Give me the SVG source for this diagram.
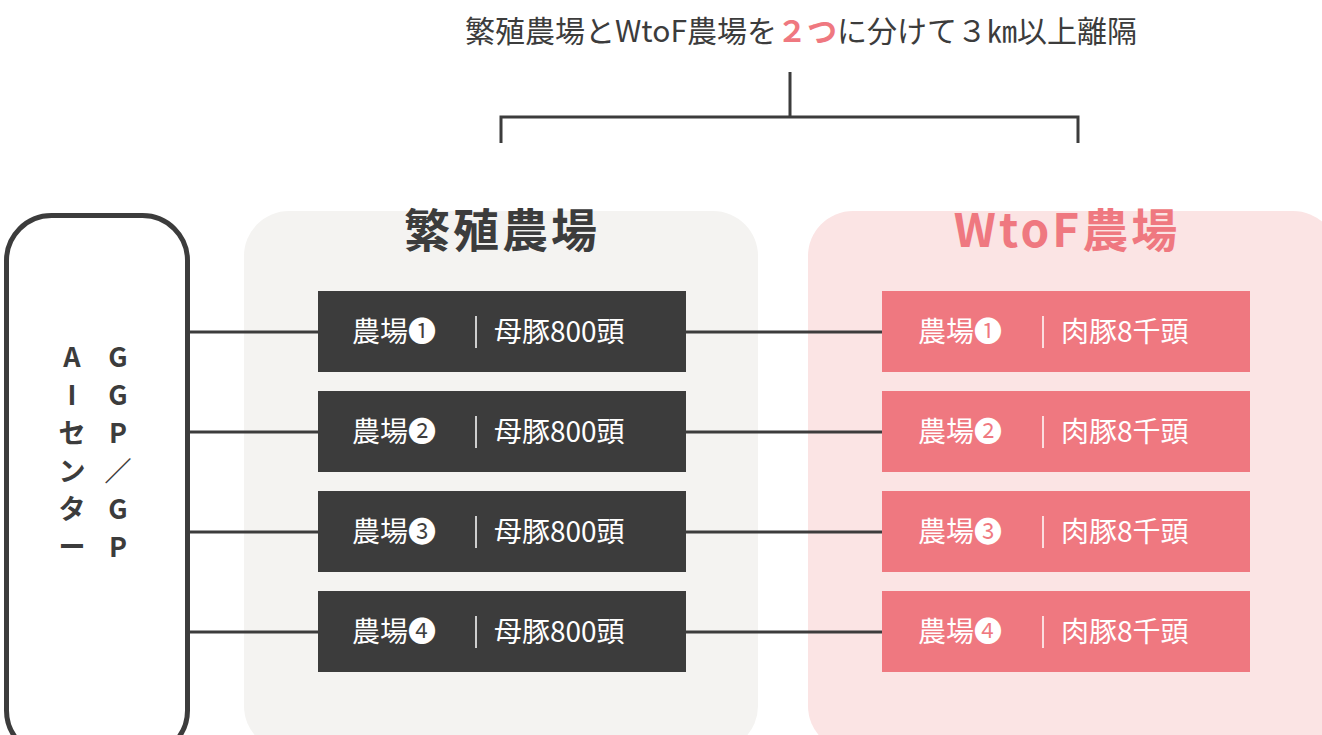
<svg xmlns="http://www.w3.org/2000/svg" width="1322" height="735" viewBox="0 0 1322 735">
<style>
text{font-family:"Noto Sans CJK JP","Noto Sans",sans-serif}
.t{font-size:30px;fill:#3c3c3c}
.h{font-size:46px;font-weight:bold;letter-spacing:3px}
.b{font-size:28px;fill:#fff}
.v{font-size:27px;font-weight:bold;fill:#3c3c3c}
.ln{stroke:#3c3c3c;stroke-width:3;fill:none}
.sep{stroke:#fff;stroke-width:1.5}
.dk{fill:#3c3c3c}.pk{fill:#ef7880}
</style>
<rect width="1322" height="735" fill="#fff"/>
<text class="t" x="801" y="42" text-anchor="middle">繁殖農場とWtoF農場を<tspan fill="#ef7880" font-weight="bold">２つ</tspan>に分けて３㎞以上離隔</text>
<g id="panels">
<rect x="244" y="211" width="514" height="540" rx="45" fill="#f4f3f1"/>
<rect x="808" y="211" width="530" height="540" rx="45" fill="#fbe4e4"/>
<text class="h" x="502" y="247" text-anchor="middle" fill="#3c3c3c">繁殖農場</text>
<text class="h" x="1067" y="247" text-anchor="middle" fill="#ef7880">WtoF農場</text>
</g>
<g id="connectors">
<path class="ln" d="M790 72V117M501 143V117H1078V143"/>
<path class="ln" d="M190 332H318M686 332H882M190 432H318M686 432H882M190 532H318M686 532H882M190 632H318M686 632H882"/>
</g>
<g id="ai">
<rect x="6.5" y="215.5" width="181" height="540" rx="45" fill="#fff" stroke="#3c3c3c" stroke-width="5"/>
<text class="v" text-anchor="middle"><tspan x="72" y="367">A</tspan><tspan x="72" y="405">I</tspan><tspan x="72" y="443">セ</tspan><tspan x="72" y="481">ン</tspan><tspan x="72" y="519">タ</tspan><tspan x="72" y="557">ー</tspan></text>
<text class="v" text-anchor="middle"><tspan x="118" y="367">G</tspan><tspan x="118" y="405">G</tspan><tspan x="118" y="443">P</tspan><tspan x="118" y="481">／</tspan><tspan x="118" y="519">G</tspan><tspan x="118" y="557">P</tspan></text>
</g>
<g id="b1"><rect class="dk" x="318" y="291" width="368" height="81"/><text class="b" x="352" y="342">農場❶</text><line class="sep" x1="476" y1="316" x2="476" y2="348"/><text class="b" x="494" y="342">母豚800頭</text></g>
<g id="b2"><rect class="dk" x="318" y="391" width="368" height="81"/><text class="b" x="352" y="442">農場❷</text><line class="sep" x1="476" y1="416" x2="476" y2="448"/><text class="b" x="494" y="442">母豚800頭</text></g>
<g id="b3"><rect class="dk" x="318" y="491" width="368" height="81"/><text class="b" x="352" y="542">農場❸</text><line class="sep" x1="476" y1="516" x2="476" y2="548"/><text class="b" x="494" y="542">母豚800頭</text></g>
<g id="b4"><rect class="dk" x="318" y="591" width="368" height="81"/><text class="b" x="352" y="642">農場❹</text><line class="sep" x1="476" y1="616" x2="476" y2="648"/><text class="b" x="494" y="642">母豚800頭</text></g>
<g id="w1"><rect class="pk" x="882" y="291" width="368" height="81"/><text class="b" x="918" y="342">農場❶</text><line class="sep" x1="1043" y1="316" x2="1043" y2="348"/><text class="b" x="1061" y="342">肉豚8千頭</text></g>
<g id="w2"><rect class="pk" x="882" y="391" width="368" height="81"/><text class="b" x="918" y="442">農場❷</text><line class="sep" x1="1043" y1="416" x2="1043" y2="448"/><text class="b" x="1061" y="442">肉豚8千頭</text></g>
<g id="w3"><rect class="pk" x="882" y="491" width="368" height="81"/><text class="b" x="918" y="542">農場❸</text><line class="sep" x1="1043" y1="516" x2="1043" y2="548"/><text class="b" x="1061" y="542">肉豚8千頭</text></g>
<g id="w4"><rect class="pk" x="882" y="591" width="368" height="81"/><text class="b" x="918" y="642">農場❹</text><line class="sep" x1="1043" y1="616" x2="1043" y2="648"/><text class="b" x="1061" y="642">肉豚8千頭</text></g>
</svg>
